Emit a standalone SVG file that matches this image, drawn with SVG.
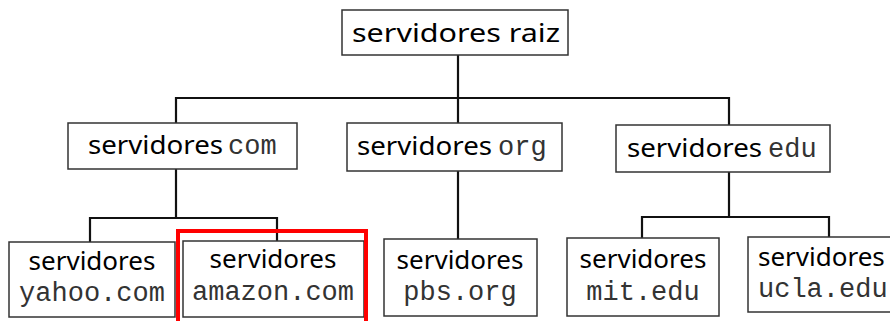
<svg xmlns="http://www.w3.org/2000/svg" width="890" height="321" viewBox="0 0 890 321">
<style>
.box{fill:#fff;stroke:#333;stroke-width:1.5}
.sans{font-family:"Noto Sans","DejaVu Sans",sans-serif;font-size:26px;fill:#000}
.mono{font-family:"Liberation Mono","Courier New",monospace;font-size:27px;fill:#333}
.c{text-anchor:middle}
.conn line{stroke:#111;stroke-width:2.2}
</style>
<rect width="890" height="321" fill="#fff"/>
<g id="connectors" class="conn">
<line x1="458" y1="55" x2="458" y2="123"/>
<line x1="175" y1="98" x2="730" y2="98"/>
<line x1="176" y1="97" x2="176" y2="123"/>
<line x1="729" y1="97" x2="729" y2="125"/>
<line x1="176" y1="169" x2="176" y2="218"/>
<line x1="89" y1="218" x2="278" y2="218"/>
<line x1="90" y1="217" x2="90" y2="242"/>
<line x1="277" y1="217" x2="277" y2="241"/>
<line x1="458" y1="171" x2="458" y2="239"/>
<line x1="729" y1="172" x2="729" y2="217"/>
<line x1="641" y1="217" x2="830" y2="217"/>
<line x1="642" y1="216" x2="642" y2="238"/>
<line x1="829" y1="216" x2="829" y2="237"/>
</g>
<g id="root">
<rect class="box" x="342" y="10" width="226" height="45"/>
<text class="sans" x="352" y="42" textLength="208" lengthAdjust="spacingAndGlyphs">servidores raiz</text>
</g>
<g id="com">
<rect class="box" x="68" y="123" width="229" height="46"/>
<text class="sans" x="88" y="154" textLength="135" lengthAdjust="spacingAndGlyphs">servidores</text>
<text class="mono" x="228" y="154">com</text>
</g>
<g id="org">
<rect class="box" x="347" y="123" width="215" height="48"/>
<text class="sans" x="357" y="155" textLength="135" lengthAdjust="spacingAndGlyphs">servidores</text>
<text class="mono" x="498" y="155">org</text>
</g>
<g id="edu">
<rect class="box" x="616" y="125" width="214" height="47"/>
<text class="sans" x="627" y="157" textLength="135" lengthAdjust="spacingAndGlyphs">servidores</text>
<text class="mono" x="768" y="157">edu</text>
</g>
<g id="yahoo">
<rect class="box" x="9" y="242" width="166" height="75"/>
<text class="sans c" x="92" y="270">servidores</text>
<text class="mono c" x="92" y="301">yahoo.com</text>
</g>
<g id="amazon">
<rect class="box" x="183" y="241" width="181" height="76"/>
<text class="sans c" x="273" y="268">servidores</text>
<text class="mono c" x="273" y="300">amazon.com</text>
<rect x="178" y="231" width="188" height="100" fill="none" stroke="#f00" stroke-width="4"/>
</g>
<g id="pbs">
<rect class="box" x="384" y="239" width="153" height="77"/>
<text class="sans c" x="460" y="269">servidores</text>
<text class="mono c" x="460" y="300">pbs.org</text>
</g>
<g id="mit">
<rect class="box" x="567" y="238" width="152" height="78"/>
<text class="sans c" x="643" y="268">servidores</text>
<text class="mono c" x="643" y="300">mit.edu</text>
</g>
<g id="ucla">
<rect class="box" x="748" y="237" width="160" height="75"/>
<text class="sans" x="758" y="266">servidores</text>
<text class="mono" x="758" y="297">ucla.edu</text>
</g>
</svg>
